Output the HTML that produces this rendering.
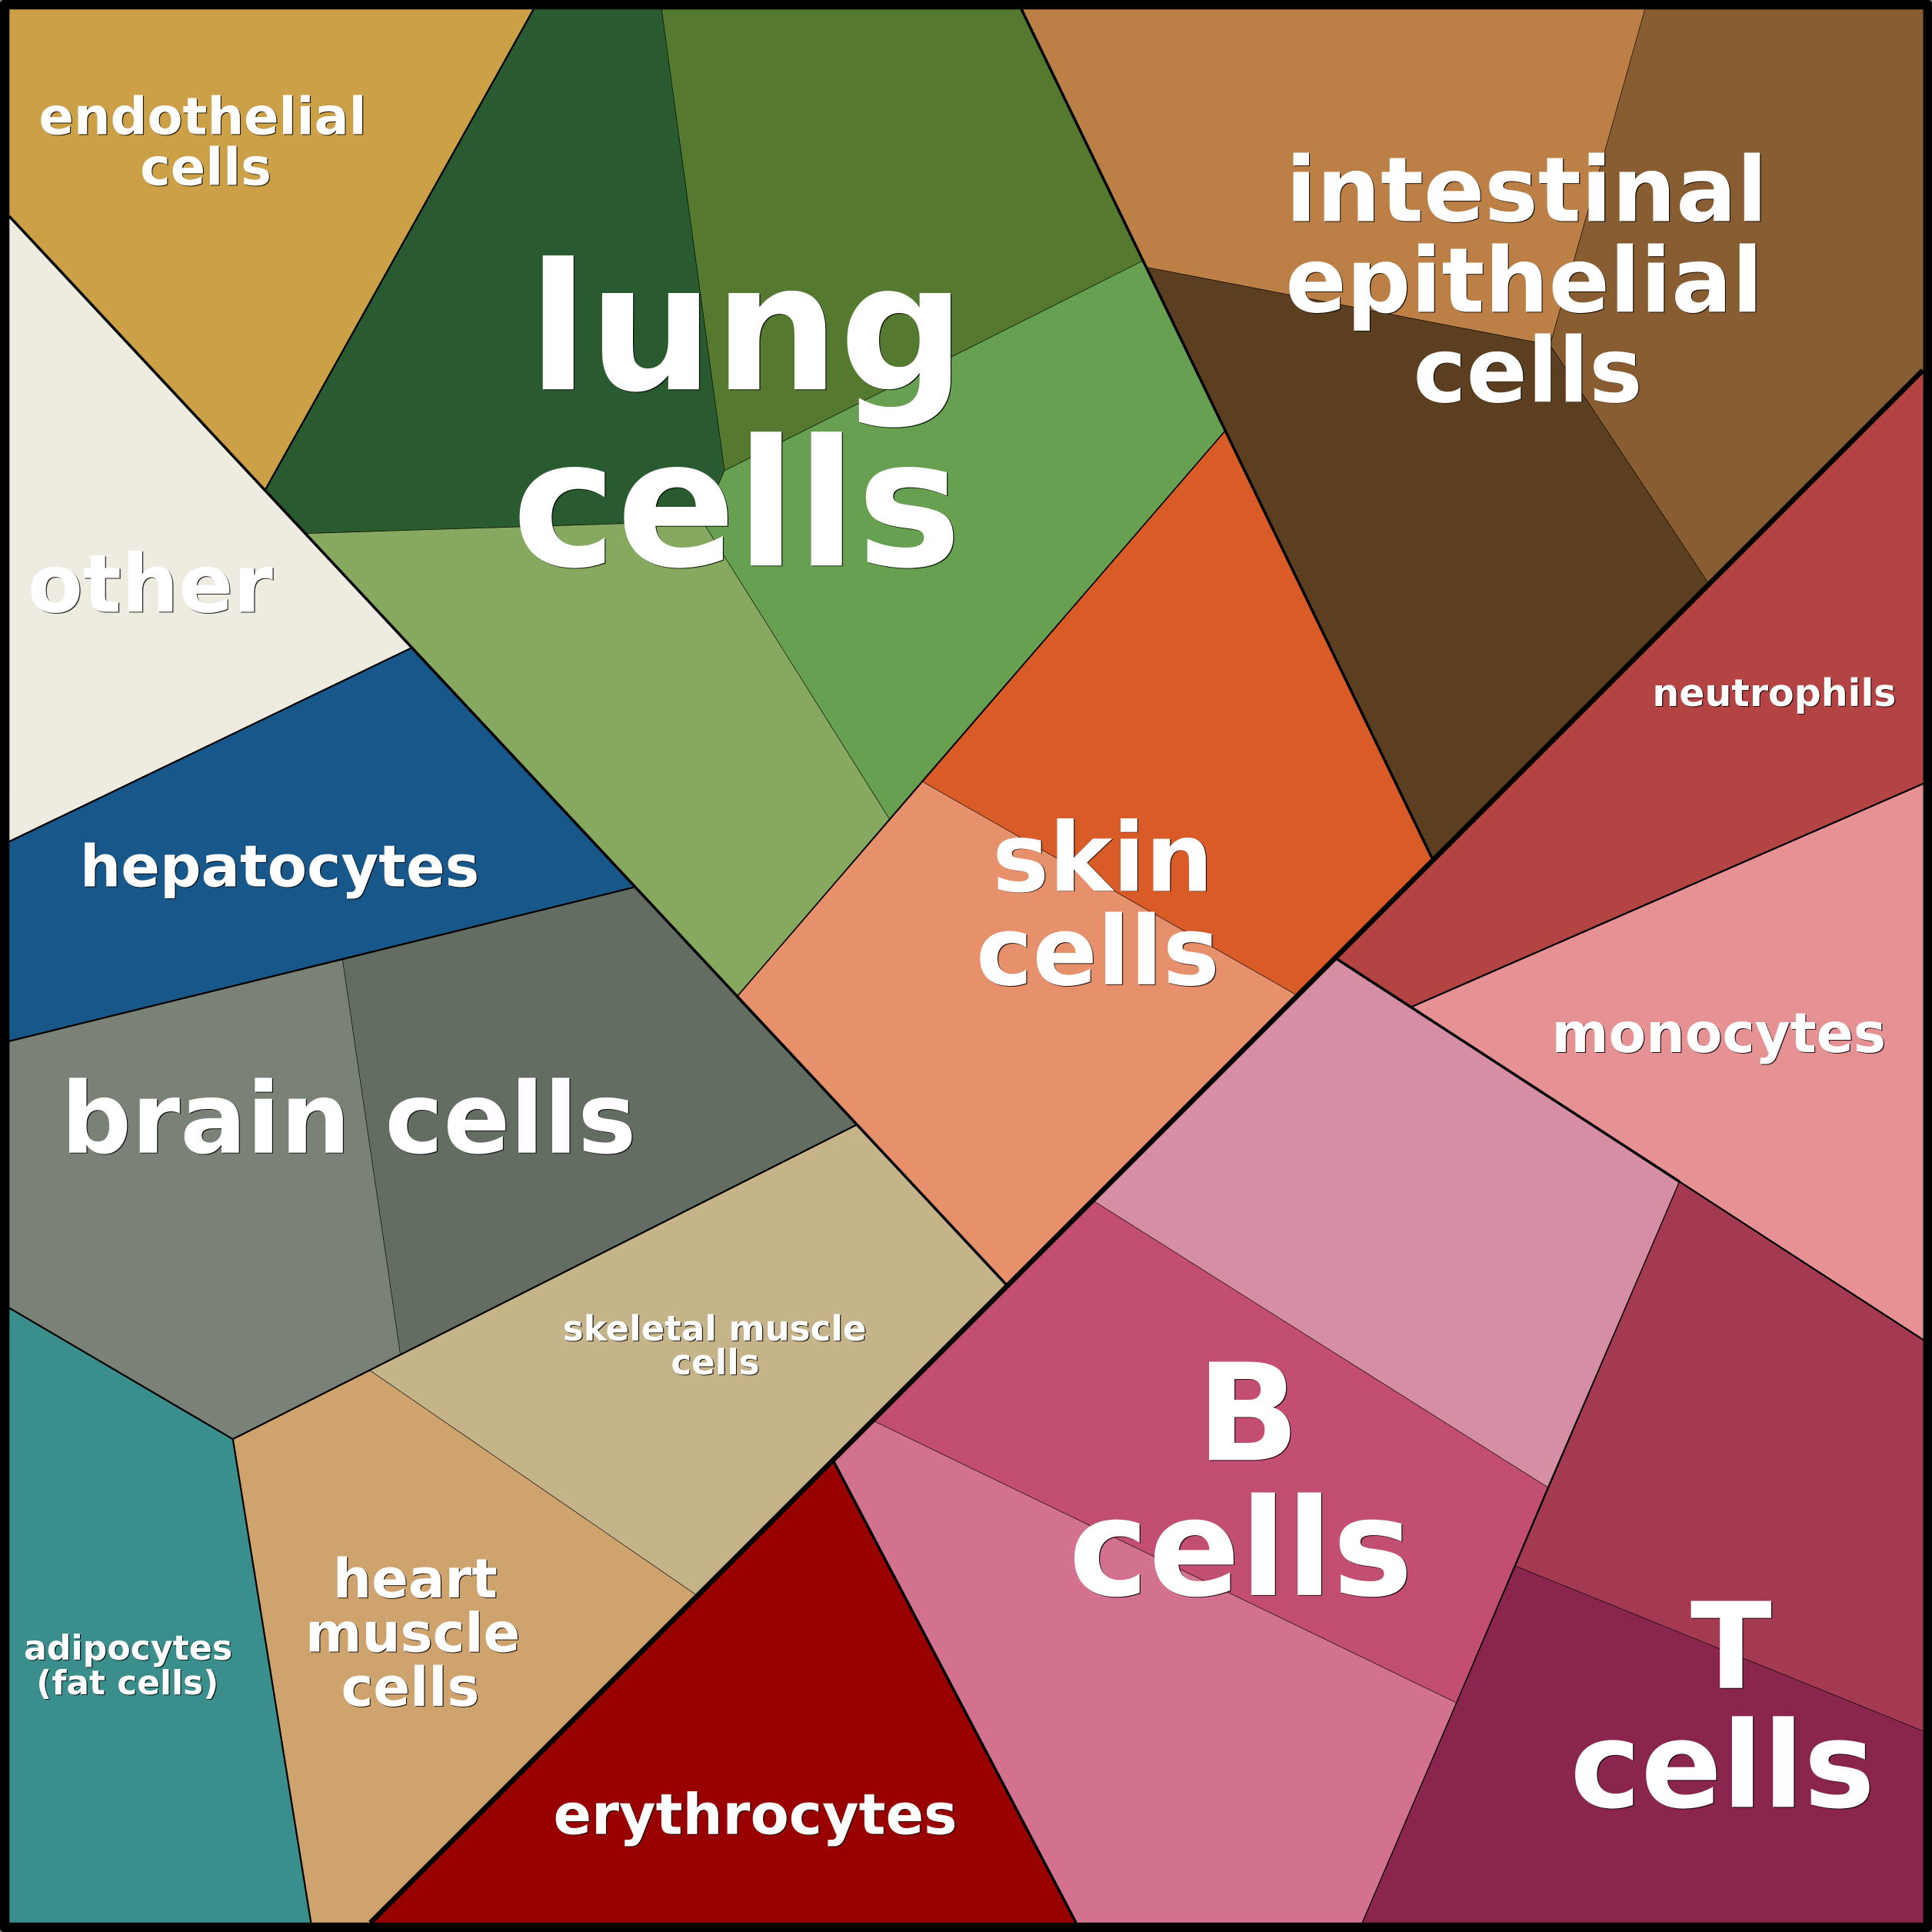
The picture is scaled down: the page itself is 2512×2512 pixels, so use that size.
<!DOCTYPE html>
<html><head><meta charset="utf-8"><style>
html,body{margin:0;padding:0;background:#808080}
svg{display:block}
text{font-family:"DejaVu Sans",sans-serif;font-weight:bold;text-anchor:middle}
#w text{fill:#fff}
#s text{fill:#000}
</style></head><body>
<svg width="2512" height="2512" viewBox="0 0 1568 1568" xmlns="http://www.w3.org/2000/svg">
<rect x="0" y="0" width="1568" height="1568" rx="3" fill="#000"/>
<g stroke="#000" stroke-width=".35" stroke-linejoin="round">
<polygon fill="#CBA046" points="7.5,175.5 7.5,7.5 433,7.5 215,398"/>
<polygon fill="#EEECE1" points="7.5,175.5 334,525.8 7.5,683"/>
<polygon fill="#18578A" points="7.5,683 334,525.8 515,720 7.5,845"/>
<polygon fill="#636D62" points="278,779 515,720 695,913 325,1100"/>
<polygon fill="#7A8278" points="7.5,845 278,779 325,1100 189,1168 7.5,1061.5"/>
<polygon fill="#3A8E8C" points="7.5,1061.5 189,1168 252.4,1560.5 7.5,1560.5"/>
<polygon fill="#CEA36E" points="189,1168 300,1112 566,1295 300.6,1560.5 252.4,1560.5"/>
<polygon fill="#C5B48A" points="300,1112 695,913 818,1044 566,1295"/>
<polygon fill="#2A5A30" points="433,7.5 537,7.5 588,382 570,423 248,433 215,398"/>
<polygon fill="#557A2F" points="537,7.5 829,7.5 931,210 588,382"/>
<polygon fill="#66A050" points="588,382 931,210 994,350 722,665 570,423"/>
<polygon fill="#86A95F" points="248,433 570,423 722,665 598,809"/>
<polygon fill="#D95C28" points="994,350 1163,698 1053,808 748,634"/>
<polygon fill="#E6916C" points="748,634 1053,808 818,1044 598,809"/>
<polygon fill="#BC8046" points="829,7.5 1335,7.5 1258,280 931,217"/>
<polygon fill="#885D32" points="1335,7.5 1561,7.5 1561,300.6 1387,474 1258,280"/>
<polygon fill="#5C3E20" points="931,217 1258,280 1387,474 1163,698"/>
<polygon fill="#B44444" points="1561,300.6 1561,636 1146,817 1083,777"/>
<polygon fill="#E69295" points="1146,817 1561,636 1561,1087.5 1363,959"/>
<polygon fill="#D68EA4" points="1083,777 1363,959 1256,1207 886.5,974"/>
<polygon fill="#C24E72" points="886.5,974 1256,1207 1182,1382 707.5,1152.5"/>
<polygon fill="#D2728F" points="707.5,1152.5 1182,1382 1105.6,1560.5 873.3,1560.5 676,1185"/>
<polygon fill="#A33A52" points="1363,959 1561,1087.5 1561,1405 1230,1271"/>
<polygon fill="#8A264D" points="1230,1271 1561,1405 1561,1560.5 1105.6,1560.5"/>
<polygon fill="#990000" points="676,1185 873.3,1560.5 300.6,1560.5"/>
</g>
<g fill="none" stroke="#000" stroke-linecap="butt">
<path stroke-width=".8" d="M1363,959L1105.6,1560.5"/>
<path stroke-width="1" d="M994,350L598,809"/>
<path stroke-width="1.4" d="M433,7.5L215,398M334,525.8L7.5,683M515,720L7.5,845M695,913L189,1168M189,1168L7.5,1061.5M189,1168L252.4,1560.5M818,1044L598,809M1561,636L1146,817M1363,959L1561,1087.5"/>
<path stroke-width="2.2" d="M7.5,175.5L818,1044M829,7.5L1163,698M1083,777L1363,959M676,1185L873.3,1560.5"/>
<path stroke-width="4.1" d="M300.6,1560.5L1560.5,300.6"/>
</g>
<g id="s" transform="translate(.75,.6)" opacity=".85">
<text x="164.5" y="109" font-size="41.8">endothelial</text>
<text x="167" y="150" font-size="41.8">cells</text>
<text x="606" y="316" font-size="143">lung</text>
<text x="598" y="459" font-size="143">cells</text>
<text x="1239" y="179.5" font-size="73">intestinal</text>
<text x="1237" y="253" font-size="73">epithelial</text>
<text x="1240" y="326" font-size="73">cells</text>
<text x="122" y="496.5" font-size="65.3">other</text>
<text x="227" y="719.5" font-size="46.7">hepatocytes</text>
<text x="895" y="723" font-size="77.5">skin</text>
<text x="891" y="799" font-size="77.5">cells</text>
<text x="1440" y="573" font-size="30.6">neutrophils</text>
<text x="1395" y="854" font-size="44.3">monocytes</text>
<text x="283" y="935.5" font-size="80">brain cells</text>
<text x="580" y="1088" font-size="28.2">skeletal muscle</text>
<text x="580.5" y="1115.5" font-size="28.2">cells</text>
<text x="337" y="1296.5" font-size="44">heart</text>
<text x="335" y="1340.5" font-size="44">muscle</text>
<text x="333" y="1384.5" font-size="44">cells</text>
<text x="104" y="1347" font-size="27.6">adipocytes</text>
<text x="103.5" y="1375" font-size="27.4">(fat cells)</text>
<text x="613" y="1488.5" font-size="45.6">erythrocytes</text>
<text x="1013" y="1185" font-size="109.5">B</text>
<text x="1007" y="1294.5" font-size="109.5">cells</text>
<text x="1405" y="1370" font-size="97">T</text>
<text x="1398" y="1466.5" font-size="97">cells</text>
</g>
<g id="w">
<text x="164.5" y="109" font-size="41.8">endothelial</text>
<text x="167" y="150" font-size="41.8">cells</text>
<text x="606" y="316" font-size="143">lung</text>
<text x="598" y="459" font-size="143">cells</text>
<text x="1239" y="179.5" font-size="73">intestinal</text>
<text x="1237" y="253" font-size="73">epithelial</text>
<text x="1240" y="326" font-size="73">cells</text>
<text x="122" y="496.5" font-size="65.3">other</text>
<text x="227" y="719.5" font-size="46.7">hepatocytes</text>
<text x="895" y="723" font-size="77.5">skin</text>
<text x="891" y="799" font-size="77.5">cells</text>
<text x="1440" y="573" font-size="30.6">neutrophils</text>
<text x="1395" y="854" font-size="44.3">monocytes</text>
<text x="283" y="935.5" font-size="80">brain cells</text>
<text x="580" y="1088" font-size="28.2">skeletal muscle</text>
<text x="580.5" y="1115.5" font-size="28.2">cells</text>
<text x="337" y="1296.5" font-size="44">heart</text>
<text x="335" y="1340.5" font-size="44">muscle</text>
<text x="333" y="1384.5" font-size="44">cells</text>
<text x="104" y="1347" font-size="27.6">adipocytes</text>
<text x="103.5" y="1375" font-size="27.4">(fat cells)</text>
<text x="613" y="1488.5" font-size="45.6">erythrocytes</text>
<text x="1013" y="1185" font-size="109.5">B</text>
<text x="1007" y="1294.5" font-size="109.5">cells</text>
<text x="1405" y="1370" font-size="97">T</text>
<text x="1398" y="1466.5" font-size="97">cells</text>
</g>
</svg>
</body></html>
